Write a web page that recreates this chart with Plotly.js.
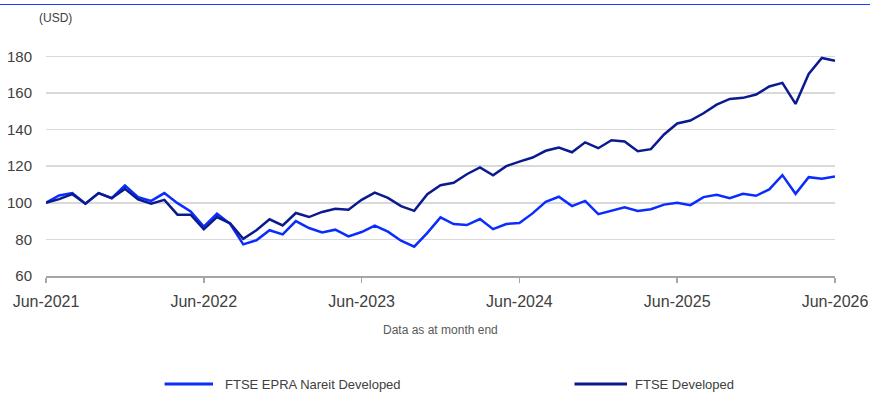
<!DOCTYPE html>
<html>
<head>
<meta charset="utf-8">
<script src="https://cdn.plot.ly/plotly-3.0.1.min.js"></script>
<style>
html,body{margin:0;padding:0;background:#fff;}
#wrap{position:relative;width:870px;height:394px;}
#topline{position:absolute;left:0;top:4px;width:870px;height:1px;background:#1a3cff;z-index:5;}
#chart{width:870px;height:394px;}
</style>
</head>
<body>
<div id="wrap"><div id="topline"></div><div id="chart"></div></div>
<script>
const months = [
 'Jun-2021','Jul-2021','Aug-2021','Sep-2021','Oct-2021','Nov-2021','Dec-2021',
 'Jan-2022','Feb-2022','Mar-2022','Apr-2022','May-2022','Jun-2022','Jul-2022','Aug-2022','Sep-2022','Oct-2022','Nov-2022','Dec-2022',
 'Jan-2023','Feb-2023','Mar-2023','Apr-2023','May-2023','Jun-2023','Jul-2023','Aug-2023','Sep-2023','Oct-2023','Nov-2023','Dec-2023',
 'Jan-2024','Feb-2024','Mar-2024','Apr-2024','May-2024','Jun-2024','Jul-2024','Aug-2024','Sep-2024','Oct-2024','Nov-2024','Dec-2024',
 'Jan-2025','Feb-2025','Mar-2025','Apr-2025','May-2025','Jun-2025','Jul-2025','Aug-2025','Sep-2025','Oct-2025','Nov-2025','Dec-2025',
 'Jan-2026','Feb-2026','Mar-2026','Apr-2026','May-2026','Jun-2026'
];

const nareitName = 'FTSE EPRA Nareit Developed';
const nareit = [
 100, 104, 105.3, 99.5, 105.3, 102.5, 109.5,
 103, 101, 105.3, 99.8, 95.3, 87, 94, 88.5, 77.3, 79.5, 85, 82.7,
 90, 86.2, 83.8, 85.3, 81.6, 84, 87.5, 84.2, 79.3, 76, 83.6, 92,
 88.4, 87.8, 91.1, 85.6, 88.4, 89, 94.2, 100.5, 103.3, 98.2, 101, 93.8,
 95.5, 97.5, 95.5, 96.5, 99, 100, 98.7, 103.1, 104.4, 102.5, 104.9, 103.8,
 107.3, 115.1, 104.9, 114, 113.1, 114.4
];

const developedName = 'FTSE Developed';
const developed = [
 100, 102, 104.7, 99.5, 105.3, 102.5, 107.6,
 101.8, 99.5, 101.6, 93.5, 93.5, 85.5, 92.2, 88.8, 80.3, 85, 91, 87.6,
 94.4, 92.2, 95, 96.7, 96.2, 101.6, 105.5, 102.7, 98.2, 95.6, 104.7, 109.6,
 110.9, 115.6, 119.3, 115, 120, 122.5, 124.7, 128.4, 130.2, 127.6, 133, 129.8,
 134.2, 133.5, 128.2, 129.3, 137.3, 143.3, 144.9, 148.9, 153.6, 156.7, 157.3, 159.1,
 163.5, 165.5, 154, 170.4, 179.1, 177.5
];

const xTicks = ['Jun-2021','Jun-2022','Jun-2023','Jun-2024','Jun-2025','Jun-2026'];
const yTicks = [60, 80, 100, 120, 140, 160, 180];

const FONT = 'Liberation Sans, Arial, sans-serif';
const LIGHT = '#0a2dff';
const DARK = '#0b1a8e';

const data = [
  {x: months, y: nareit, name: nareitName, type: 'scatter', mode: 'lines',
   line: {color: LIGHT, width: 2.5}},
  {x: months, y: developed, name: developedName, type: 'scatter', mode: 'lines',
   line: {color: DARK, width: 2.5}}
];

// legend drawn as paper-referenced keys
const legY = -0.4538;
const legendKeys = [
  {name: nareitName, color: LIGHT, x0: 0.1503, x1: 0.2117, tx: 0.2243},
  {name: developedName, color: DARK, x0: 0.6698, x1: 0.7364, tx: 0.7440}
];

const layout = {
  width: 870, height: 394,
  margin: {l: 46, r: 35, t: 38, b: 118},
  paper_bgcolor: '#ffffff', plot_bgcolor: '#ffffff',
  font: {family: FONT, color: '#404040'},
  showlegend: false,
  xaxis: {type: 'category', range: [0, 60], tickmode: 'array', tickvals: xTicks, ticktext: xTicks,
          showgrid: false, zeroline: false, showline: true, linecolor: '#a6a6a6', linewidth: 1.5,
          ticks: 'outside', ticklen: 5, tickcolor: '#a6a6a6', tickwidth: 1.5, ticklabelstandoff: 5,
          tickfont: {family: FONT, size: 16, color: '#404040'}},
  yaxis: {range: [60, 190], tickmode: 'array', tickvals: yTicks,
          showgrid: true, gridcolor: '#d9d9d9', gridwidth: 1.5, zeroline: false, showline: false,
          ticks: '', ticklabelstandoff: 13,
          tickfont: {family: FONT, size: 15, color: '#404040'}},
  shapes: legendKeys.map(k => ({type: 'line', xref: 'paper', yref: 'paper',
          x0: k.x0, x1: k.x1, y0: legY, y1: legY, line: {color: k.color, width: 3}})),
  annotations: [
    {text: '(USD)', xref: 'paper', yref: 'paper', x: -0.0114, y: 1.084, xanchor: 'left', yanchor: 'middle',
     showarrow: false, font: {family: FONT, size: 12, color: '#404040'}},
    {text: 'Data as at month end', xref: 'paper', yref: 'paper', x: 0.5, y: -0.227, xanchor: 'center', yanchor: 'middle',
     showarrow: false, font: {family: FONT, size: 12, color: '#595959'}}
  ].concat(legendKeys.map(k => ({text: k.name, xref: 'paper', yref: 'paper', x: k.tx, y: legY,
     xanchor: 'left', yanchor: 'middle', showarrow: false, font: {family: FONT, size: 13, color: '#404040'}})))
};

Plotly.newPlot('chart', data, layout, {displayModeBar: false, staticPlot: true});
</script>
</body>
</html>
